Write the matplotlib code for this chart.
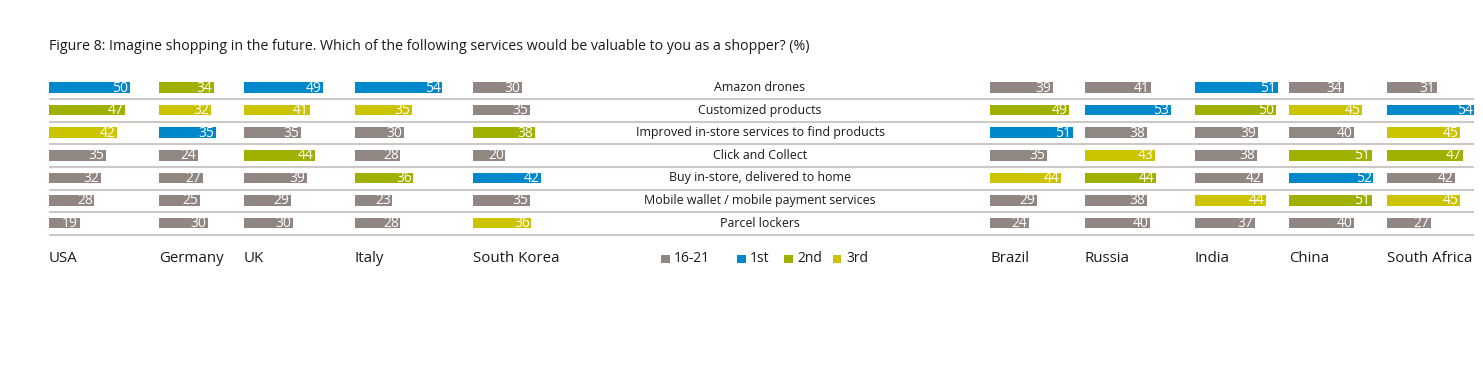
import matplotlib
matplotlib.use("Agg")
import matplotlib.pyplot as plt
import numpy as np

# data
services = ["Amazon drones", "Customized products", "Improved in-store services to find products",
            "Click and Collect", "Buy in-store, delivered to home",
            "Mobile wallet / mobile payment services", "Parcel lockers"]
countries = ["USA", "Germany", "UK", "Italy", "South Korea",
             "Brazil", "Russia", "India", "China", "South Africa"]
usa = [50, 47, 42, 35, 32, 28, 19]
germany = [34, 32, 35, 24, 27, 25, 30]
uk = [49, 41, 35, 44, 39, 29, 30]
italy = [54, 35, 30, 28, 36, 23, 28]
south_korea = [30, 35, 38, 20, 42, 35, 36]
brazil = [39, 49, 51, 35, 44, 29, 24]
russia = [41, 53, 38, 43, 44, 38, 40]
india = [51, 50, 39, 38, 42, 44, 37]
china = [34, 45, 40, 51, 52, 51, 40]
south_africa = [31, 54, 45, 47, 42, 45, 27]
legend_labels = ["16-21", "1st", "2nd", "3rd"]

all_values = [usa, germany, uk, italy, south_korea, brazil, russia, india, china, south_africa]

# layout (pixels)
W, H = 1483, 375
SCALE = 1.62  # pixels per percentage point
col_left = [49, 159, 244, 355, 473, 990, 1085, 1195, 1289, 1387]
row_y = 87.5 + 22.6 * np.arange(len(services))

GRAY = "#908782"
BLUE = "#0088cc"
GREEN = "#a0b000"
YELLOW = "#ccc400"
rank_colors = {1: BLUE, 2: GREEN, 3: YELLOW}


def px(x):
    return x / SCALE


fig = plt.figure(figsize=(W / 100, H / 100), dpi=100)
ax = fig.add_axes([0, 0, 1, 1])
ax.set_xlim(0, px(W))
ax.set_ylim(H, 0)
ax.axis("off")

font = "Open Sans"

fig.text(49 / W, 1 - 47 / H,
         "Figure 8: Imagine shopping in the future. Which of the following services would be valuable to you as a shopper? (%)",
         fontsize=10.2, family=font, color="#1a1a1a", va="center", ha="left")

# separators
for y in row_y:
    ax.hlines(y + 11.6, px(49), px(1474), color="#cbc8c5", lw=1.5)

for name, x0, vals in zip(countries, col_left, all_values):
    top = sorted(set(vals), reverse=True)[:3]
    colors = [rank_colors[top.index(v) + 1] if v in top else GRAY for v in vals]
    ax.barh(row_y, vals, left=px(x0), height=10.5, color=colors)
    for y, v in zip(row_y, vals):
        ax.text(px(x0) + v - px(1.5), y + 0.5, str(v), color="white", fontsize=10,
                family=font, ha="right", va="center")
    ax.text(px(x0), 259, name, fontsize=10.8, family=font, color="#1a1a1a",
            ha="left", va="center")

for y, s in zip(row_y, services):
    ax.text(px(760), y, s, fontsize=8.9, family=font, color="#1a1a1a",
            ha="center", va="center")

# legend
leg_x = [661, 737, 784, 833]
for x, lab, c in zip(leg_x, legend_labels, [GRAY, BLUE, GREEN, YELLOW]):
    ax.barh(259, px(8.5), left=px(x), height=8.5, color=c)
    ax.text(px(x + 13), 259, lab, fontsize=10, family=font, color="#1a1a1a",
            ha="left", va="center")

fig.savefig("out.png", dpi=100)
